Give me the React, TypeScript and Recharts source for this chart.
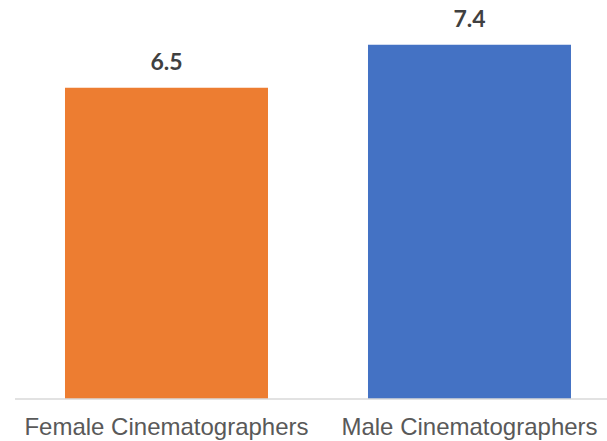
import { BarChart, Bar, XAxis, YAxis, Cell, LabelList } from "recharts";

const categories = ["Female Cinematographers", "Male Cinematographers"];
const values = [6.5, 7.4];
const barColors = ["#ED7D31", "#4472C4"];

const data = categories.map((name, i) => ({ name, value: values[i] }));

export default function App() {
  return (
    <div
      style={{
        position: "absolute",
        left: 0,
        top: 0,
        width: 607,
        height: 441,
        overflow: "hidden",
        background: "#fff",
      }}
    >
      <BarChart
        width={640}
        height={441}
        data={data}
        margin={{ top: 16, right: 19, left: 15, bottom: 0 }}
        barCategoryGap="16.5%"
      >
        <XAxis
          dataKey="name"
          height={42}
          axisLine={{ stroke: "#D9D9D9", strokeWidth: 1.5 }}
          tickLine={false}
          tickSize={6}
          tickMargin={13}
          interval={0}
          tick={{ fill: "#595959", fontSize: 24, fontFamily: "Liberation Sans, Arial, sans-serif" }}
        />
        <YAxis hide domain={[0, 8]} />
        <Bar dataKey="value" isAnimationActive={false}>
          {data.map((d, i) => (
            <Cell key={d.name} fill={barColors[i]} />
          ))}
          <LabelList
            dataKey="value"
            position="top"
            offset={18}
            fill="#404040"
            fontSize={23}
            fontWeight={700}
            fontFamily="Lato, sans-serif"
          />
        </Bar>
      </BarChart>
    </div>
  );
}
